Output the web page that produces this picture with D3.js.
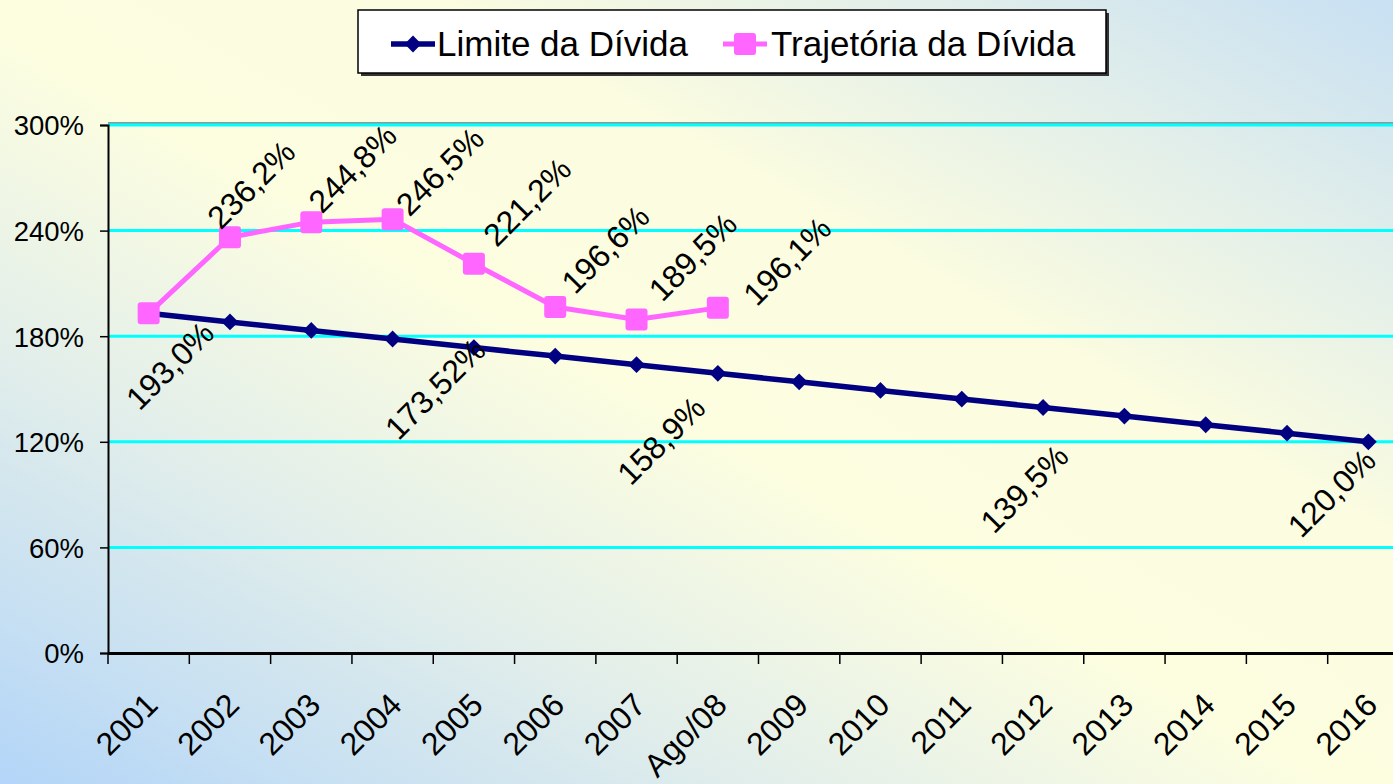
<!DOCTYPE html>
<html lang="pt">
<head>
    <meta charset="UTF-8">
    <title>Limite e Trajetória da Dívida</title>
    <script src="https://d3js.org/d3.v7.min.js"></script>
    <style>
        html, body { margin: 0; padding: 0; overflow: hidden; }
        body { font-family: "Liberation Sans", Arial, sans-serif; }
        text { font-family: "Liberation Sans", Arial, sans-serif; fill: #000; }
    </style>
</head>
<body>
<svg id="chart"></svg>
<script>
// chart values
var categories = ["2001", "2002", "2003", "2004", "2005", "2006", "2007", "Ago/08",
                  "2009", "2010", "2011", "2012", "2013", "2014", "2015", "2016"];
var limite = [193.0, 188.1, 183.3, 178.4, 173.52, 168.7, 163.8, 158.9,
              154.1, 149.2, 144.3, 139.5, 134.6, 129.7, 124.9, 120.0];
var trajetoria = [193.0, 236.2, 244.8, 246.5, 221.2, 196.6, 189.5, 196.1];
var limiteLabels = ["193,0%", null, null, null, "173,52%", null, null, "158,9%",
                    null, null, null, "139,5%", null, null, null, "120,0%"];
var trajetoriaLabels = [null, "236,2%", "244,8%", "246,5%", "221,2%", "196,6%", "189,5%", "196,1%"];
var yTicks = [0, 60, 120, 180, 240, 300];
var seriesNames = ["Limite da Dívida", "Trajetória da Dívida"];

// label placement (pixels relative to the point), as hand placed in the original
var limiteLabelOffset = [[21, 52], null, null, null, [-39, 41], null, null, [-57, 67],
                         null, null, null, [-19, 81], null, null, null, [-37, 51]];
var trajLabelOffset = [null, [21, -53], [41, -54], [47, -48], [53, -62], [50, -58], [56, -63], [69, -47]];

var W = 1393, H = 784;
var navy = "#000080", pink = "#ff66ff";

var svg = d3.select("#chart").attr("width", W).attr("height", H);

// background gradient
var defs = svg.append("defs");
var grad = defs.append("linearGradient").attr("id", "bg")
    .attr("x1", 0).attr("y1", 1).attr("x2", 1).attr("y2", 0);
grad.append("stop").attr("offset", "0%").attr("stop-color", "#b3d5f8");
grad.append("stop").attr("offset", "28%").attr("stop-color", "#e2eeea");
grad.append("stop").attr("offset", "48%").attr("stop-color", "#fdfee0");
grad.append("stop").attr("offset", "66%").attr("stop-color", "#fbfce0");
grad.append("stop").attr("offset", "100%").attr("stop-color", "#c8e0f3");
svg.append("rect").attr("width", W).attr("height", H).attr("fill", "url(#bg)");

var x = d3.scaleBand().domain(categories).range([108, 1409]);
var y = d3.scaleLinear().domain([0, 300]).range([653, 125]);
var cx = function (i) { return x(categories[i]) + x.bandwidth() / 2; };

// gridlines
svg.append("line").attr("x1", 108).attr("x2", W).attr("y1", 123).attr("y2", 123)
    .attr("stroke", "#8a9a9a").attr("stroke-width", 2);
svg.append("g").selectAll("line")
    .data(yTicks.filter(function (d) { return d > 0; }))
    .enter().append("line")
    .attr("x1", 108).attr("x2", W)
    .attr("y1", function (d) { return y(d); })
    .attr("y2", function (d) { return y(d); })
    .attr("stroke", "#00ffff").attr("stroke-width", 3);

// y axis
var yAxis = svg.append("g").attr("transform", "translate(108,0)")
    .call(d3.axisLeft(y).tickValues(yTicks).tickSize(8).tickPadding(16)
        .tickFormat(function (d) { return d + "%"; }));
yAxis.select(".domain").attr("stroke", "#000").attr("stroke-width", 2);
yAxis.selectAll(".tick line").attr("stroke", "#000").attr("stroke-width", 1.5);
yAxis.selectAll(".tick text").style("font-size", "27.5px").attr("dy", "0.36em");

// x axis
var xAxis = svg.append("g").attr("transform", "translate(0,653)")
    .call(d3.axisBottom(x).tickSize(0).tickPadding(0));
xAxis.select(".domain").attr("stroke", "#000").attr("stroke-width", 3);
xAxis.selectAll(".tick text")
    .style("font-size", "32px")
    .attr("text-anchor", "end")
    .attr("y", 0).attr("dy", 0)
    .attr("transform", "translate(11,54) rotate(-45)");
svg.append("g").selectAll("line")
    .data(categories.slice(0))
    .enter().append("line")
    .attr("x1", function (d) { return x(d); })
    .attr("x2", function (d) { return x(d); })
    .attr("y1", 653).attr("y2", 664)
    .attr("stroke", "#000").attr("stroke-width", 1.5);

// limite series
var line = d3.line().x(function (d, i) { return cx(i); }).y(function (d) { return y(d); });
svg.append("path").datum(limite).attr("d", line)
    .attr("fill", "none").attr("stroke", navy).attr("stroke-width", 5.5)
    .attr("stroke-linejoin", "round");
var diamond = d3.symbol().type(d3.symbolDiamond2).size(180);
svg.append("g").selectAll("path")
    .data(limite).enter().append("path")
    .attr("d", diamond)
    .attr("transform", function (d, i) { return "translate(" + cx(i) + "," + y(d) + ")"; })
    .attr("fill", navy);

// trajetoria series
svg.append("path").datum(trajetoria).attr("d", line)
    .attr("fill", "none").attr("stroke", pink).attr("stroke-width", 5)
    .attr("stroke-linejoin", "round");
svg.append("g").selectAll("rect")
    .data(trajetoria).enter().append("rect")
    .attr("x", function (d, i) { return cx(i) - 11; })
    .attr("y", function (d) { return y(d) - 11; })
    .attr("width", 22).attr("height", 22).attr("rx", 3)
    .attr("fill", pink);

// data labels
function addLabels(values, labels, offsets) {
    svg.append("g").selectAll("text")
        .data(values.map(function (v, i) { return { v: v, i: i, t: labels[i], o: offsets[i] }; })
            .filter(function (d) { return d.t; }))
        .enter().append("text")
        .attr("text-anchor", "middle")
        .attr("dy", "0.36em")
        .style("font-size", "32px")
        .attr("transform", function (d) {
            return "translate(" + (cx(d.i) + d.o[0]) + "," + (y(d.v) + d.o[1]) + ") rotate(-45)";
        })
        .text(function (d) { return d.t; });
}
addLabels(limite, limiteLabels, limiteLabelOffset);
addLabels(trajetoria, trajetoriaLabels, trajLabelOffset);

// legend
var lg = svg.append("g");
lg.append("rect").attr("x", 361).attr("y", 13).attr("width", 748).attr("height", 63).attr("fill", "#333");
lg.append("rect").attr("x", 358).attr("y", 10).attr("width", 748).attr("height", 63)
    .attr("fill", "#fff").attr("stroke", "#000").attr("stroke-width", 1.5);
lg.append("line").attr("x1", 391).attr("x2", 435).attr("y1", 44).attr("y2", 44)
    .attr("stroke", navy).attr("stroke-width", 5.5);
lg.append("path").attr("d", diamond).attr("transform", "translate(413,44)").attr("fill", navy);
lg.append("text").attr("x", 437).attr("y", 56).style("font-size", "35px").text(seriesNames[0]);
lg.append("line").attr("x1", 723).attr("x2", 767).attr("y1", 44).attr("y2", 44)
    .attr("stroke", pink).attr("stroke-width", 5);
lg.append("rect").attr("x", 734).attr("y", 33).attr("width", 22).attr("height", 22).attr("rx", 3)
    .attr("fill", pink);
lg.append("text").attr("x", 771).attr("y", 56).style("font-size", "35px").text(seriesNames[1]);
</script>
</body>
</html>
